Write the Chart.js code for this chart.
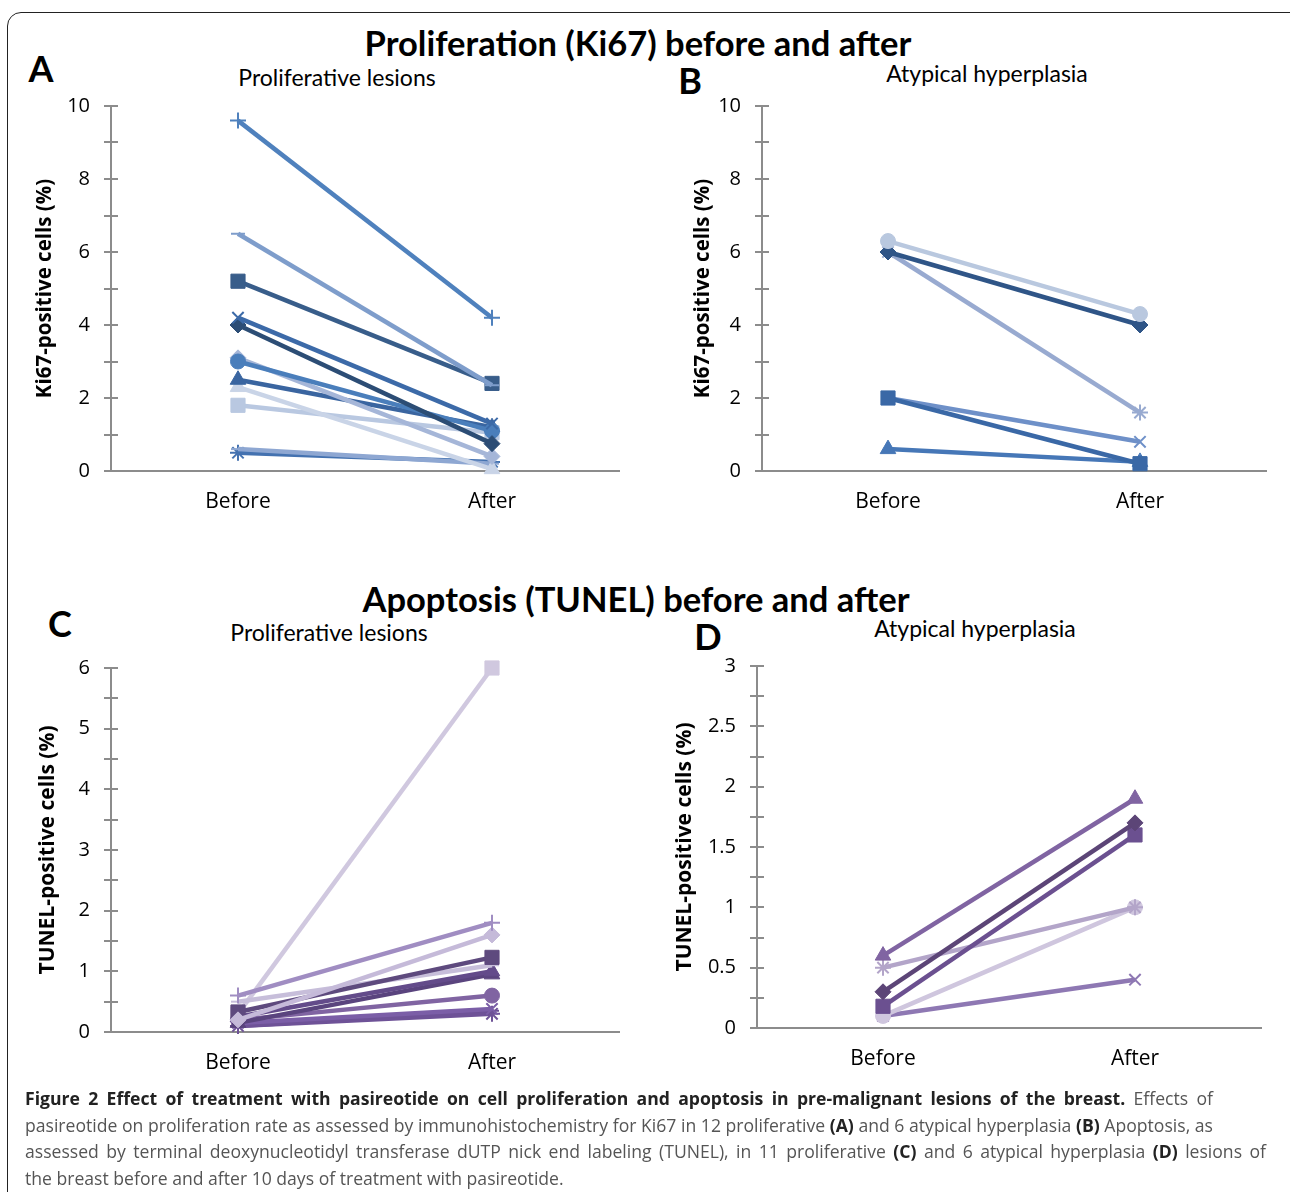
<!DOCTYPE html>
<html>
<head>
<meta charset="utf-8">
<script src="https://cdn.jsdelivr.net/npm/chart.js@4.4.0/dist/chart.umd.min.js"></script>
<style>
  html, body { margin: 0; padding: 0; background: #fff; overflow: hidden; }
  #page { position: relative; width: 1290px; height: 1192px; overflow: hidden; }
  .frame { position: absolute; left: 7px; top: 12px; width: 1310px; height: 1220px;
           border: 1.5px solid #222; border-radius: 14px; }
  canvas { position: absolute; }
  .t { position: absolute; white-space: nowrap; font-family: Lato, sans-serif; color: #000; }
  .main { font-weight: bold; font-size: 34.5px; transform: translate(-50%, -50%); }
  .sub { font-size: 23px; transform: translate(-50%, -50%); }
  .letter { font-weight: bold; font-size: 36px; transform: translate(-50%, -50%); }
  #caption { position: absolute; left: 25px; top: 1085px; font-family: "Open Sans", sans-serif;
             font-size: 17.6px; line-height: 26.5px; color: #555; z-index: 2; }
  #caption div { white-space: nowrap; }
  #caption .j { text-align: justify; text-align-last: justify; }
  #caption b { color: #222; }
</style>
</head>
<body>
<div id="page">
  <div class="frame"></div>
  <div class="t main" style="left:638px; top:42px;">Proliferation (Ki67) before and after</div>
  <div class="t main" style="left:636px; top:598px;">Apoptosis (TUNEL) before and after</div>
  <div class="t letter" style="left:41px; top:68px;">A</div>
  <div class="t letter" style="left:690px; top:80px;">B</div>
  <div class="t letter" style="left:60px; top:623px;">C</div>
  <div class="t letter" style="left:708px; top:636px;">D</div>
  <div class="t sub" style="left:337px; top:77px;">Proliferative lesions</div>
  <div class="t sub" style="left:987px; top:73px;">Atypical hyperplasia</div>
  <div class="t sub" style="left:329px; top:632px;">Proliferative lesions</div>
  <div class="t sub" style="left:975px; top:628px;">Atypical hyperplasia</div>

  <canvas id="chartA" width="600" height="480" style="left:20px; top:80px;"></canvas>
  <canvas id="chartB" width="592" height="480" style="left:678px; top:80px;"></canvas>
  <canvas id="chartC" width="600" height="480" style="left:22px; top:640px;"></canvas>
  <canvas id="chartD" width="607" height="480" style="left:659px; top:640px;"></canvas>

  <div id="caption">
    <div class="j" style="width:1188px;"><b>Figure 2 Effect of treatment with pasireotide on cell proliferation and apoptosis in pre-malignant lesions of the breast.</b> Effects of</div>
    <div class="j" style="width:1188px;">pasireotide on proliferation rate as assessed by immunohistochemistry for Ki67 in 12 proliferative <b>(A)</b> and 6 atypical hyperplasia <b>(B)</b> Apoptosis, as</div>
    <div class="j" style="width:1241px;">assessed by terminal deoxynucleotidyl transferase dUTP nick end labeling (TUNEL), in 11 proliferative <b>(C)</b> and 6 atypical hyperplasia <b>(D)</b> lesions of</div>
    <div>the breast before and after 10 days of treatment with pasireotide.</div>
  </div>
</div>

<script>
const categories = ['Before', 'After'];

// A: Ki67, proliferative lesions (12)
const kiProlifBefore = [9.6, 6.5, 5.2, 4.2, 4.0, 3.0, 3.1, 2.5, 2.3, 1.8, 0.6, 0.5];
const kiProlifAfter  = [4.2, 2.35, 2.4, 1.3, 0.75, 1.1, 0.4, 1.2, 0.05, 1.05, 0.2, 0.25];
const kiProlifColors = ['#4F81BD', '#7E9DCB', '#385D8A', '#3C6AA8', '#2C4D75', '#4A7EBB',
                        '#A5B6D8', '#3A65A0', '#C9D4E7', '#B9C8E1', '#8EA7D2', '#4472B0'];
const kiProlifShapes = ['cross', 'line', 'rect', 'crossRot', 'rectRot', 'circle',
                        'rectRot', 'triangle', 'triangle', 'rect', 'line', 'star'];

// B: Ki67, atypical hyperplasia (6)
const kiAtypBefore = [6.3, 6.0, 6.0, 2.0, 2.0, 0.6];
const kiAtypAfter  = [4.3, 4.0, 1.6, 0.2, 0.8, 0.25];
const kiAtypColors = ['#B9C8DF', '#2F5587', '#98AAD0', '#3A68A6', '#6E90C8', '#4677B7'];
const kiAtypShapes = ['circle', 'rectRot', 'star', 'rect', 'crossRot', 'triangle'];

// C: TUNEL, proliferative lesions (11)
const tunelProlifBefore = [0.6, 0.2, 0.33, 0.5, 0.25, 0.15, 0.2, 0.15, 0.1, 0.3, 0.1];
const tunelProlifAfter  = [1.8, 1.6, 1.23, 1.1, 1.0, 0.95, 0.6, 0.38, 0.3, 6.0, 0.35];
const tunelProlifColors = ['#A08DC2', '#C5BAD9', '#5E4A7E', '#C7BEDA', '#634B8A', '#5A447E',
                           '#8064A2', '#7B5EA7', '#6E5297', '#D0C8DF', '#6A4F93'];
const tunelProlifShapes = ['cross', 'rectRot', 'rect', 'line', 'triangle', 'triangle',
                           'circle', 'crossRot', 'star', 'rect', 'line'];

// D: TUNEL, atypical hyperplasia (6)
const tunelAtypBefore = [0.6, 0.3, 0.18, 0.5, 0.1, 0.1];
const tunelAtypAfter  = [1.9, 1.7, 1.6, 1.0, 1.0, 0.4];
const tunelAtypColors = ['#8064A2', '#5C4577', '#6B5090', '#B3A5C9', '#CFC6DE', '#8E78B3'];
const tunelAtypShapes = ['triangle', 'rectRot', 'rect', 'star', 'circle', 'crossRot'];

const axisGray = '#8c8c8c';
const radiusFor = { rect: 10, circle: 7.5, triangle: 9, rectRot: 8, cross: 8, crossRot: 8, star: 8, line: 7 };

// tick marks crossing the y axis (Excel style)
const crossTicks = {
  id: 'crossTicks',
  afterDraw(chart) {
    const y = chart.scales.y, ctx = chart.ctx;
    ctx.save();
    ctx.strokeStyle = axisGray;
    ctx.lineWidth = 2;
    y.ticks.forEach(t => {
      const py = Math.round(y.getPixelForValue(t.value));
      ctx.beginPath();
      ctx.moveTo(y.right, py);
      ctx.lineTo(y.right + 7, py);
      ctx.stroke();
    });
    ctx.restore();
  }
};

function makePanel(id, before, after, colors, shapes, cfg) {
  const datasets = before.map((b, i) => ({
    data: [b, after[i]],
    borderColor: colors[i],
    backgroundColor: colors[i],
    borderWidth: 4.5,
    pointStyle: shapes[i],
    pointRadius: radiusFor[shapes[i]],
    pointBorderWidth: ['cross', 'crossRot', 'star', 'line'].includes(shapes[i]) ? 2 : 1,
    pointBorderColor: colors[i],
    pointBackgroundColor: colors[i],
    clip: false
  }));
  new Chart(id, {
    type: 'line',
    data: { labels: categories, datasets: datasets },
    options: {
      responsive: false,
      animation: false,
      layout: { autoPadding: false, padding: { left: 0, top: cfg.padTop, right: cfg.padRight, bottom: 0 } },
      plugins: { legend: { display: false }, tooltip: { enabled: false } },
      scales: {
        x: {
          offset: true,
          grid: { display: true, drawOnChartArea: false, drawTicks: false, color: 'rgba(0,0,0,0)' },
          border: { display: true, color: axisGray, width: 2 },
          ticks: { color: '#000', padding: 18, font: { family: 'Open Sans', size: 21 } },
          afterFit: s => { s.height = cfg.xHeight; }
        },
        y: {
          min: 0,
          max: cfg.max,
          ticks: {
            stepSize: cfg.step,
            color: '#000',
            padding: 14,
            font: { family: 'Open Sans', size: 20 },
            callback: v => (Math.abs(v / cfg.labelStep - Math.round(v / cfg.labelStep)) < 1e-6 ? v : '')
          },
          grid: { drawOnChartArea: false, tickLength: 7, color: axisGray, lineWidth: 2 },
          border: { color: axisGray, width: 2 },
          title: {
            display: true,
            text: cfg.title,
            color: '#000',
            padding: { top: 13, bottom: 0 },
            font: { family: 'Open Sans', size: cfg.titleSize, weight: 'bold' }
          },
          afterFit: s => { s.width = cfg.yWidth; }
        }
      }
    },
    plugins: [crossTicks]
  });
}

makePanel('chartA', kiProlifBefore, kiProlifAfter, kiProlifColors, kiProlifShapes,
  { max: 10, step: 1, labelStep: 2, title: 'Ki67-positive cells (%)', titleSize: 20.5, padTop: 26, padRight: 1, yWidth: 91, xHeight: 89 });
makePanel('chartB', kiAtypBefore, kiAtypAfter, kiAtypColors, kiAtypShapes,
  { max: 10, step: 1, labelStep: 2, title: 'Ki67-positive cells (%)', titleSize: 20.5, padTop: 26, padRight: 4, yWidth: 84, xHeight: 89 });
makePanel('chartC', tunelProlifBefore, tunelProlifAfter, tunelProlifColors, tunelProlifShapes,
  { max: 6, step: 0.5, labelStep: 1, title: 'TUNEL-positive cells (%)', titleSize: 21, padTop: 28, padRight: 3, yWidth: 89, xHeight: 88 });
makePanel('chartD', tunelAtypBefore, tunelAtypAfter, tunelAtypColors, tunelAtypShapes,
  { max: 3, step: 0.25, labelStep: 0.5, title: 'TUNEL-positive cells (%)', titleSize: 21, padTop: 23, padRight: 5, yWidth: 98, xHeight: 92 });
</script>
</body>
</html>
